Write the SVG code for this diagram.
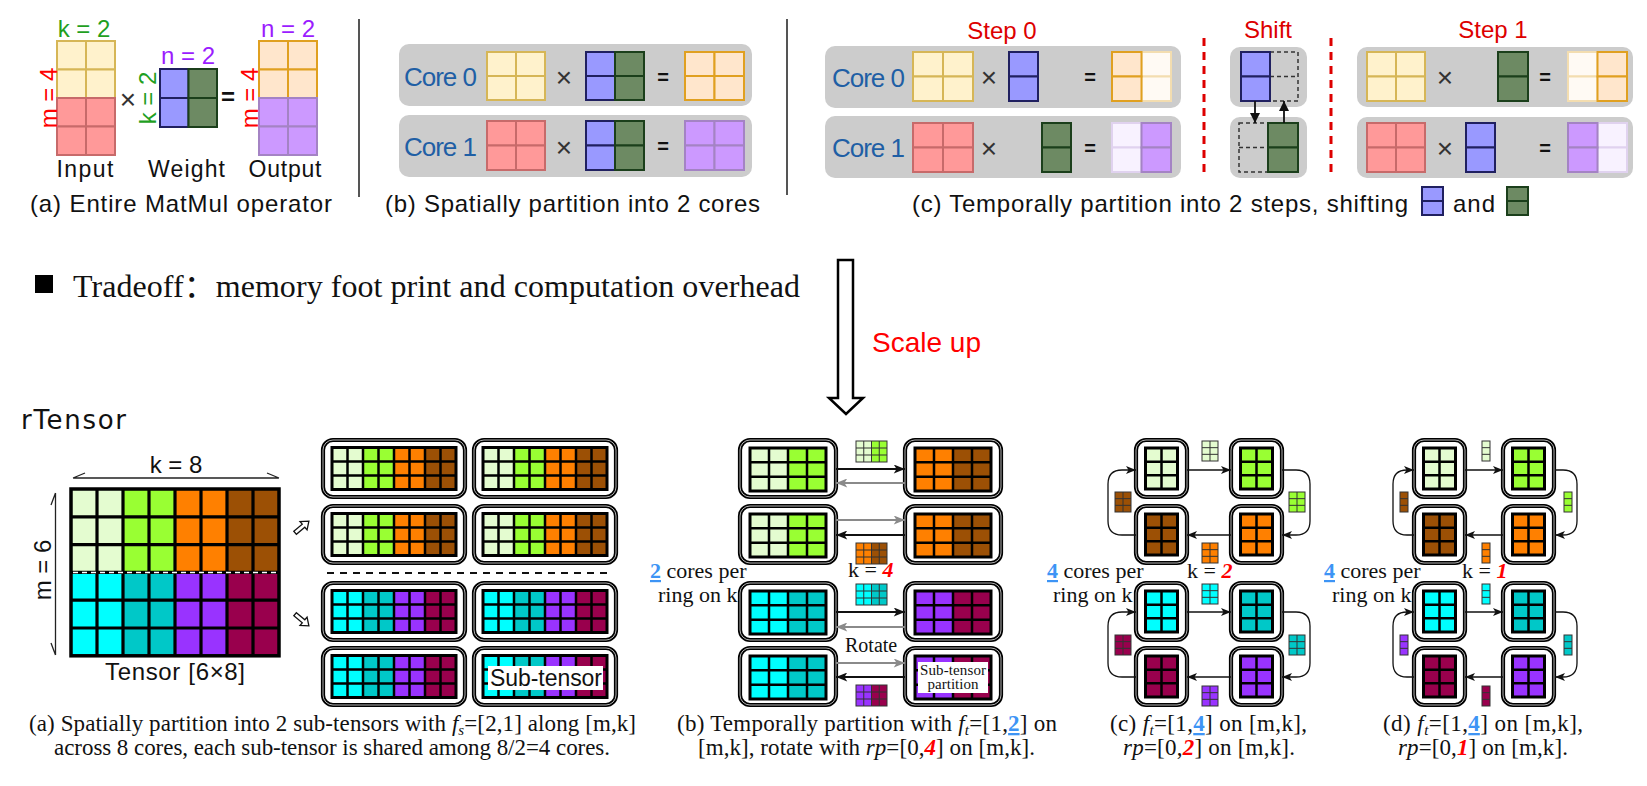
<svg xmlns="http://www.w3.org/2000/svg" xmlns:xlink="http://www.w3.org/1999/xlink" width="1647" height="786" viewBox="0 0 1647 786">
<style>
.sans{font-family:"Liberation Sans",Arial,sans-serif}
.serif{font-family:"Liberation Serif","Times New Roman",serif}
.cap{font-size:24px;fill:#111}
.core{font-size:26px;fill:#1f5fa5}
.gbox{fill:#cccccc}
.cy{fill:#fff2cc;stroke:#d6b656;stroke-width:2}
.cr{fill:#ff9999;stroke:#c76a6a;stroke-width:2}
.cb{fill:#9999ff;stroke:#202060;stroke-width:2}
.cg{fill:#6d8a63;stroke:#1b3f1b;stroke-width:2}
.cp{fill:#ffe6cc;stroke:#e0a020;stroke-width:2}
.cv{fill:#cc99ff;stroke:#a483c4;stroke-width:2}
.cpl{fill:#fffaf4;stroke:#f3ddb0;stroke-width:2}
.cvl{fill:#f8f2ff;stroke:#e0d2ef;stroke-width:2}
.dsh{fill:#cccccc;stroke:#333;stroke-width:1.5;stroke-dasharray:4,3}
.times{font-size:28px;fill:#333}
.eq{font-size:20px;font-weight:bold;fill:#111}
.red{fill:#dd0000;font-size:24px}
.ob{fill:#fff;stroke:#000;stroke-width:4.2}
.obw{fill:none;stroke:#fff;stroke-width:0.7}
.gl{fill:none;stroke:#000;stroke-width:2.5}
.gb{fill:none;stroke:#000;stroke-width:3}
.sl{fill:none;stroke:#333;stroke-width:1}
.bc{font-size:23px;fill:#111}
.bl{fill:#3d94f5;font-weight:bold;text-decoration:underline}
.rd{fill:#ff0000;font-weight:bold;font-style:italic}
.ar{fill:none;stroke:#111;stroke-width:1.8}
.arg{fill:none;stroke:#8a8a8a;stroke-width:1.8}
.ring{fill:none;stroke:#111;stroke-width:1.3}
</style>
<defs>
<marker id="mk" viewBox="0 0 10 8" refX="10" refY="4" markerWidth="12" markerHeight="9" markerUnits="userSpaceOnUse" orient="auto"><path d="M0,0 L10,4 L0,8 L2.5,4 Z" fill="#111"/></marker>
<marker id="mkg" viewBox="0 0 10 8" refX="10" refY="4" markerWidth="12" markerHeight="9" markerUnits="userSpaceOnUse" orient="auto"><path d="M0,0 L10,4 L0,8 L2.5,4 Z" fill="#8a8a8a"/></marker>
<marker id="mkr" viewBox="0 0 10 8" refX="10" refY="4" markerWidth="11" markerHeight="8" markerUnits="userSpaceOnUse" orient="auto"><path d="M0,0 L10,4 L0,8 L2.5,4 Z" fill="#111"/></marker>
<marker id="tri" viewBox="0 0 10 10" refX="10" refY="5" markerWidth="10" markerHeight="10" markerUnits="userSpaceOnUse" orient="auto"><path d="M0,0 L10,5 L0,10 Z" fill="#111"/></marker>
<g id="stLines">
<path class="gl" d="M24.5,7.5V49.5M40,7.5V49.5M55.5,7.5V49.5M71,7.5V49.5M86.5,7.5V49.5M102,7.5V49.5M117.5,7.5V49.5M9,21.5H133M9,35.5H133"/>
<rect x="9" y="7.5" width="124" height="42" class="gb"/>
</g>
<g id="stTop">
<rect x="0" y="0" width="142" height="57" rx="10" class="ob"/><rect x="0" y="0" width="142" height="57" rx="10" class="obw"/>
<rect x="9" y="7.5" width="31" height="42" fill="#e4fcd0"/><rect x="40" y="7.5" width="31" height="42" fill="#99ff33"/>
<rect x="71" y="7.5" width="31" height="42" fill="#ff8000"/><rect x="102" y="7.5" width="31" height="42" fill="#9c5005"/>
<use href="#stLines"/>
</g>
<g id="stBot">
<rect x="0" y="0" width="142" height="57" rx="10" class="ob"/><rect x="0" y="0" width="142" height="57" rx="10" class="obw"/>
<rect x="9" y="7.5" width="31" height="42" fill="#00ffff"/><rect x="40" y="7.5" width="31" height="42" fill="#00c8c8"/>
<rect x="71" y="7.5" width="31" height="42" fill="#9933ff"/><rect x="102" y="7.5" width="31" height="42" fill="#99004d"/>
<use href="#stLines"/>
</g>
<g id="bLines">
<path class="gl" d="M29,8V51M48,8V51M67,8V51M10,22.33H86M10,36.67H86"/>
<rect x="10" y="8" width="76" height="43" class="gb"/>
</g>
<g id="bFrame"><rect x="0" y="0" width="96" height="57" rx="10" class="ob"/><rect x="0" y="0" width="96" height="57" rx="10" class="obw"/></g>
<g id="bLG"><use href="#bFrame"/><rect x="10" y="8" width="38" height="43" fill="#e4fcd0"/><rect x="48" y="8" width="38" height="43" fill="#99ff33"/><use href="#bLines"/></g>
<g id="bOB"><use href="#bFrame"/><rect x="10" y="8" width="38" height="43" fill="#ff8000"/><rect x="48" y="8" width="38" height="43" fill="#9c5005"/><use href="#bLines"/></g>
<g id="bCT"><use href="#bFrame"/><rect x="10" y="8" width="38" height="43" fill="#00ffff"/><rect x="48" y="8" width="38" height="43" fill="#00c8c8"/><use href="#bLines"/></g>
<g id="bPM"><use href="#bFrame"/><rect x="10" y="8" width="38" height="43" fill="#9933ff"/><rect x="48" y="8" width="38" height="43" fill="#99004d"/><use href="#bLines"/></g>
<g id="cBox">
<rect x="0" y="0" width="51" height="57" rx="10" class="ob"/><rect x="0" y="0" width="51" height="57" rx="10" class="obw"/>
<rect x="9.5" y="8" width="32" height="41" fill="currentColor"/>
<path class="gl" d="M25.5,8V49M9.5,21.67H41.5M9.5,35.33H41.5"/>
<rect x="9.5" y="8" width="32" height="41" class="gb"/>
</g>
<g id="sb4L"><path class="sl" d="M7.75,0V21M15.5,0V21M23.25,0V21M0,7H31M0,14H31"/><rect x="0" y="0" width="31" height="21" class="sl"/></g>
<g id="sb2"><rect x="0" y="0" width="16" height="20" fill="currentColor"/><path class="sl" d="M8,0V20M0,6.67H16M0,13.33H16"/><rect x="0" y="0" width="16" height="20" class="sl"/></g>
<g id="sb1"><rect x="0" y="0" width="8" height="20" fill="currentColor"/><path class="sl" d="M0,6.67H8M0,13.33H8"/><rect x="0" y="0" width="8" height="20" class="sl"/></g>
</defs>
<rect x="0" y="0" width="1647" height="786" fill="#fff"/>

<!-- ===== Top (a) ===== -->
<g id="top-a">
<g id="a-input">
<rect class="cy" x="57" y="41" width="29" height="28.5"/><rect class="cy" x="86" y="41" width="29" height="28.5"/>
<rect class="cy" x="57" y="69.5" width="29" height="28.5"/><rect class="cy" x="86" y="69.5" width="29" height="28.5"/>
<rect class="cr" x="57" y="98" width="29" height="28.5"/><rect class="cr" x="86" y="98" width="29" height="28.5"/>
<rect class="cr" x="57" y="126.5" width="29" height="28.5"/><rect class="cr" x="86" y="126.5" width="29" height="28.5"/>
</g>
<g id="a-weight">
<rect class="cb" x="160" y="69" width="28.5" height="29"/><rect class="cb" x="160" y="98" width="28.5" height="29"/>
<rect class="cg" x="188.5" y="69" width="28.5" height="29"/><rect class="cg" x="188.5" y="98" width="28.5" height="29"/>
</g>
<g id="a-output">
<rect class="cp" x="259" y="41" width="29" height="28.5"/><rect class="cp" x="288" y="41" width="29" height="28.5"/>
<rect class="cp" x="259" y="69.5" width="29" height="28.5"/><rect class="cp" x="288" y="69.5" width="29" height="28.5"/>
<rect class="cv" x="259" y="98" width="29" height="28.5"/><rect class="cv" x="288" y="98" width="29" height="28.5"/>
<rect class="cv" x="259" y="126.5" width="29" height="28.5"/><rect class="cv" x="288" y="126.5" width="29" height="28.5"/>
</g>
<text class="sans" x="84" y="37" font-size="24" fill="#1fa01f" text-anchor="middle">k = 2</text>
<text class="sans" x="188" y="64" font-size="24" fill="#9b1cff" text-anchor="middle">n = 2</text>
<text class="sans" x="288" y="37" font-size="24" fill="#9b1cff" text-anchor="middle">n = 2</text>
<text class="sans" transform="translate(48,98) rotate(-90)" y="8.5" font-size="24" fill="#ff0000" text-anchor="middle">m = 4</text>
<text class="sans" transform="translate(147,98) rotate(-90)" y="8.5" font-size="24" fill="#1fa01f" text-anchor="middle">k = 2</text>
<text class="sans" transform="translate(249,98) rotate(-90)" y="8.5" font-size="24" fill="#ff0000" text-anchor="middle">m = 4</text>
<text class="sans times" x="128" y="109" text-anchor="middle">×</text>
<text class="sans" x="228" y="105" font-size="24" font-weight="bold" fill="#111" text-anchor="middle">=</text>
<text class="sans" x="85" y="177" font-size="23" fill="#111" text-anchor="middle" textLength="57">Input</text>
<text class="sans" x="186.5" y="177" font-size="23" fill="#111" text-anchor="middle" textLength="77">Weight</text>
<text class="sans" x="285" y="177" font-size="23" fill="#111" text-anchor="middle" textLength="73">Output</text>
<text class="sans cap" x="30" y="212" textLength="302">(a) Entire MatMul operator</text>
</g>

<line x1="359" y1="19" x2="359" y2="197" stroke="#555" stroke-width="2"/>
<line x1="787" y1="19" x2="787" y2="195" stroke="#555" stroke-width="2"/>

<!-- ===== Top (b) ===== -->
<g id="top-b">
<g id="b-core0">
<rect class="gbox" x="399" y="44" width="353" height="62" rx="10"/>
<text class="sans core" x="404" y="86" textLength="73">Core 0</text>
<rect class="cy" x="487" y="52" width="29" height="24"/><rect class="cy" x="516" y="52" width="29" height="24"/>
<rect class="cy" x="487" y="76" width="29" height="24"/><rect class="cy" x="516" y="76" width="29" height="24"/>
<text class="sans times" x="564" y="87" text-anchor="middle">×</text>
<rect class="cb" x="586" y="52" width="29" height="24"/><rect class="cb" x="586" y="76" width="29" height="24"/>
<rect class="cg" x="615" y="52" width="29" height="24"/><rect class="cg" x="615" y="76" width="29" height="24"/>
<text class="sans eq" x="663" y="84" text-anchor="middle">=</text>
<rect class="cp" x="685" y="52" width="29.5" height="24"/><rect class="cp" x="714.5" y="52" width="29.5" height="24"/>
<rect class="cp" x="685" y="76" width="29.5" height="24"/><rect class="cp" x="714.5" y="76" width="29.5" height="24"/>
</g>
<g id="b-core1">
<rect class="gbox" x="399" y="115" width="353" height="62" rx="10"/>
<text class="sans core" x="404" y="156" textLength="73">Core 1</text>
<rect class="cr" x="487" y="121" width="29" height="24.5"/><rect class="cr" x="516" y="121" width="29" height="24.5"/>
<rect class="cr" x="487" y="145.5" width="29" height="24.5"/><rect class="cr" x="516" y="145.5" width="29" height="24.5"/>
<text class="sans times" x="564" y="157" text-anchor="middle">×</text>
<rect class="cb" x="586" y="121" width="29" height="24.5"/><rect class="cb" x="586" y="145.5" width="29" height="24.5"/>
<rect class="cg" x="615" y="121" width="29" height="24.5"/><rect class="cg" x="615" y="145.5" width="29" height="24.5"/>
<text class="sans eq" x="663" y="153" text-anchor="middle">=</text>
<rect class="cv" x="685" y="121" width="29.5" height="24.5"/><rect class="cv" x="714.5" y="121" width="29.5" height="24.5"/>
<rect class="cv" x="685" y="145.5" width="29.5" height="24.5"/><rect class="cv" x="714.5" y="145.5" width="29.5" height="24.5"/>
</g>
<text class="sans cap" x="385" y="212" textLength="375">(b) Spatially partition into 2 cores</text>
</g>

<!-- ===== Top (c) ===== -->
<g id="top-c">
<text class="sans red" x="1002" y="39" text-anchor="middle">Step 0</text>
<text class="sans red" x="1268" y="38" text-anchor="middle">Shift</text>
<text class="sans red" x="1493" y="38" text-anchor="middle">Step 1</text>
<line x1="1204" y1="38" x2="1204" y2="174" stroke="#dd0000" stroke-width="3" stroke-dasharray="8,6"/>
<line x1="1331" y1="38" x2="1331" y2="174" stroke="#dd0000" stroke-width="3" stroke-dasharray="8,6"/>
<g id="c0-core0">
<rect class="gbox" x="825" y="46" width="356" height="62" rx="10"/>
<text class="sans core" x="832" y="87" textLength="73">Core 0</text>
<rect class="cy" x="913" y="52" width="30" height="24.5"/><rect class="cy" x="943" y="52" width="30" height="24.5"/>
<rect class="cy" x="913" y="76.5" width="30" height="24.5"/><rect class="cy" x="943" y="76.5" width="30" height="24.5"/>
<text class="sans times" x="989" y="87" text-anchor="middle">×</text>
<rect class="cb" x="1009" y="52" width="29" height="24.5"/><rect class="cb" x="1009" y="76.5" width="29" height="24.5"/>
<text class="sans eq" x="1090" y="84" text-anchor="middle">=</text>
<rect class="cpl" x="1141.5" y="52" width="29.5" height="24.5"/><rect class="cpl" x="1141.5" y="76.5" width="29.5" height="24.5"/>
<rect class="cp" x="1112" y="52" width="29.5" height="24.5"/><rect class="cp" x="1112" y="76.5" width="29.5" height="24.5"/>
</g>
<g id="c0-core1">
<rect class="gbox" x="825" y="116" width="356" height="62" rx="10"/>
<text class="sans core" x="832" y="157" textLength="73">Core 1</text>
<rect class="cr" x="913" y="123" width="30" height="24.5"/><rect class="cr" x="943" y="123" width="30" height="24.5"/>
<rect class="cr" x="913" y="147.5" width="30" height="24.5"/><rect class="cr" x="943" y="147.5" width="30" height="24.5"/>
<text class="sans times" x="989" y="158" text-anchor="middle">×</text>
<rect class="cg" x="1042" y="123" width="29" height="24.5"/><rect class="cg" x="1042" y="147.5" width="29" height="24.5"/>
<text class="sans eq" x="1090" y="155" text-anchor="middle">=</text>
<rect class="cvl" x="1112" y="123" width="29.5" height="24.5"/><rect class="cvl" x="1112" y="147.5" width="29.5" height="24.5"/>
<rect class="cv" x="1141.5" y="123" width="29.5" height="24.5"/><rect class="cv" x="1141.5" y="147.5" width="29.5" height="24.5"/>
</g>
<g id="shift-core0">
<rect class="gbox" x="1230" y="47" width="77" height="60" rx="10"/>
<rect class="dsh" x="1270" y="52" width="28" height="49"/><line x1="1270" y1="76.5" x2="1298" y2="76.5" class="dsh"/>
<rect class="cb" x="1241" y="52" width="29" height="24.5"/><rect class="cb" x="1241" y="76.5" width="29" height="24.5"/>
</g>
<g id="shift-core1">
<rect class="gbox" x="1230" y="117" width="77" height="61" rx="10"/>
<rect class="dsh" x="1239" y="123" width="29" height="49"/><line x1="1239" y1="147.5" x2="1268" y2="147.5" class="dsh"/>
<rect class="cg" x="1268" y="123" width="30" height="24.5"/><rect class="cg" x="1268" y="147.5" width="30" height="24.5"/>
</g>
<g id="s1-core0">
<rect class="gbox" x="1357" y="47" width="276" height="60" rx="10"/>
<rect class="cy" x="1367" y="52" width="29" height="24.5"/><rect class="cy" x="1396" y="52" width="29" height="24.5"/>
<rect class="cy" x="1367" y="76.5" width="29" height="24.5"/><rect class="cy" x="1396" y="76.5" width="29" height="24.5"/>
<text class="sans times" x="1445" y="87" text-anchor="middle">×</text>
<rect class="cg" x="1498" y="52" width="30" height="24.5"/><rect class="cg" x="1498" y="76.5" width="30" height="24.5"/>
<text class="sans eq" x="1545" y="84" text-anchor="middle">=</text>
<rect class="cpl" x="1568" y="52" width="29.5" height="24.5"/><rect class="cpl" x="1568" y="76.5" width="29.5" height="24.5"/>
<rect class="cp" x="1597.5" y="52" width="29.5" height="24.5"/><rect class="cp" x="1597.5" y="76.5" width="29.5" height="24.5"/>
</g>
<g id="s1-core1">
<rect class="gbox" x="1357" y="117" width="276" height="61" rx="10"/>
<rect class="cr" x="1367" y="123" width="29" height="24.5"/><rect class="cr" x="1396" y="123" width="29" height="24.5"/>
<rect class="cr" x="1367" y="147.5" width="29" height="24.5"/><rect class="cr" x="1396" y="147.5" width="29" height="24.5"/>
<text class="sans times" x="1445" y="158" text-anchor="middle">×</text>
<rect class="cb" x="1466" y="123" width="29" height="24.5"/><rect class="cb" x="1466" y="147.5" width="29" height="24.5"/>
<text class="sans eq" x="1545" y="155" text-anchor="middle">=</text>
<rect class="cvl" x="1597.5" y="123" width="29.5" height="24.5"/><rect class="cvl" x="1597.5" y="147.5" width="29.5" height="24.5"/>
<rect class="cv" x="1568" y="123" width="29.5" height="24.5"/><rect class="cv" x="1568" y="147.5" width="29.5" height="24.5"/>
</g>
<text class="sans cap" x="912" y="212" textLength="496">(c) Temporally partition into 2 steps, shifting</text>
<rect class="cb" x="1422" y="187" width="21" height="14"/><rect class="cb" x="1422" y="201" width="21" height="14"/>
<text class="sans cap" x="1453" y="212" textLength="42">and</text>
<rect class="cg" x="1507" y="187" width="21" height="14"/><rect class="cg" x="1507" y="201" width="21" height="14"/>
</g>

<!-- ===== Middle ===== -->
<g id="tradeoff">
<rect x="35" y="275" width="18" height="18" fill="#000"/>
<text x="73" y="297" font-family="'Liberation Serif','Noto Sans CJK SC',serif" font-size="32" fill="#111" textLength="727">Tradeoff：memory foot print and computation overhead</text>
</g>
<g id="scale-up">
<path d="M838,260 H853 V398 H863 L846,414 L829,398 H838 Z" fill="#fff" stroke="#000" stroke-width="2.5" stroke-linejoin="miter"/>
<text class="sans" x="872" y="352" font-size="28" fill="#ff0000">Scale up</text>
</g>

<!-- ===== Bottom (a) ===== -->
<text x="21" y="429" font-family="'DejaVu Sans',sans-serif" font-size="26" fill="#111" textLength="105">rTensor</text>
<g id="tensor">
<text class="sans" x="176" y="473" font-size="24" fill="#111" text-anchor="middle">k = 8</text>
<path d="M73,478 H279 M73,478 L85,473 M279,478 L267,473" fill="none" stroke="#222" stroke-width="1.3"/>
<path d="M55.5,493 V655 M55.5,493 L51,505 M55.5,655 L51,643" fill="none" stroke="#222" stroke-width="1.3"/>
<text class="sans" transform="translate(42,570) rotate(-90)" y="8.5" font-size="24" fill="#111" text-anchor="middle">m = 6</text>
<rect x="71" y="489" width="52" height="83.4" fill="#e4fcd0"/><rect x="123" y="489" width="52" height="83.4" fill="#99ff33"/>
<rect x="175" y="489" width="52" height="83.4" fill="#ff8000"/><rect x="227" y="489" width="52" height="83.4" fill="#9c5005"/>
<rect x="71" y="572.4" width="52" height="83.4" fill="#00ffff"/><rect x="123" y="572.4" width="52" height="83.4" fill="#00c8c8"/>
<rect x="175" y="572.4" width="52" height="83.4" fill="#9933ff"/><rect x="227" y="572.4" width="52" height="83.4" fill="#99004d"/>
<path d="M97,489V655.8M123,489V655.8M149,489V655.8M175,489V655.8M201,489V655.8M227,489V655.8M253,489V655.8M71,516.8H279M71,544.6H279M71,572.4H279M71,600.2H279M71,628H279" fill="none" stroke="#000" stroke-width="3.2"/>
<rect x="71" y="489" width="208" height="166.8" fill="none" stroke="#000" stroke-width="3.5"/>
<line x1="73" y1="572.4" x2="279" y2="572.4" stroke="#fff" stroke-width="1.5" stroke-dasharray="5,4"/>
<text class="sans" x="105" y="680" font-size="24" fill="#111" textLength="140">Tensor [6×8]</text>
</g>
<g id="split-arrows">
<path transform="translate(302,527) rotate(-40)" d="M-9,-2 L2,-2 L2,-5.5 L9,0 L2,5.5 L2,2 L-9,2 Z" fill="#fff" stroke="#111" stroke-width="1.3"/>
<path transform="translate(302,620) rotate(40)" d="M-9,-2 L2,-2 L2,-5.5 L9,0 L2,5.5 L2,2 L-9,2 Z" fill="#fff" stroke="#111" stroke-width="1.3"/>
</g>
<g id="a-st1"><use href="#stTop" x="323" y="440"/></g>
<g id="a-st2"><use href="#stTop" x="474" y="440"/></g>
<g id="a-st3"><use href="#stTop" x="323" y="506"/></g>
<g id="a-st4"><use href="#stTop" x="474" y="506"/></g>
<line x1="327" y1="573" x2="610" y2="573" stroke="#111" stroke-width="2" stroke-dasharray="7,6"/>
<g id="a-st5"><use href="#stBot" x="323" y="583"/></g>
<g id="a-st6"><use href="#stBot" x="474" y="583"/></g>
<g id="a-st7"><use href="#stBot" x="323" y="648"/></g>
<g id="a-st8"><use href="#stBot" x="474" y="648"/>
<rect x="488" y="666" width="115" height="24" fill="#fff"/>
<text class="sans" x="490" y="686" font-size="23" fill="#111" textLength="112">Sub-tensor</text></g>
<text class="serif bc" x="29" y="731" textLength="607">(a) Spatially partition into 2 sub-tensors with <tspan font-style="italic">f</tspan><tspan font-style="italic" font-size="15" dy="4">s</tspan><tspan dy="-4">=[2,1] along [m,k]</tspan></text>
<text class="serif bc" x="54" y="755" textLength="556">across 8 cores, each sub-tensor is shared among 8/2=4 cores.</text>

<!-- ===== Bottom (b) ===== -->
<g id="b-n1"><use href="#bLG" x="740" y="440"/></g>
<g id="b-n2"><use href="#bOB" x="905" y="440"/></g>
<g id="b-n3"><use href="#bLG" x="740" y="506"/></g>
<g id="b-n4"><use href="#bOB" x="905" y="506"/></g>
<g id="b-n5"><use href="#bCT" x="740" y="583"/></g>
<g id="b-n6"><use href="#bPM" x="905" y="583"/></g>
<g id="b-n7"><use href="#bCT" x="740" y="648"/></g>
<g id="b-n8"><use href="#bPM" x="905" y="648"/>
<rect x="918" y="662" width="70" height="31" fill="#fff"/>
<text class="serif" x="953" y="675" font-size="15" fill="#111" text-anchor="middle" textLength="66">Sub-tensor</text>
<text class="serif" x="953" y="689" font-size="15" fill="#111" text-anchor="middle">partition</text></g>
<g id="b-blocks">
<rect x="856" y="441" width="15.5" height="21" fill="#e4fcd0"/><rect x="871.5" y="441" width="15.5" height="21" fill="#99ff33"/><use href="#sb4L" x="856" y="441"/>
<rect x="856" y="543" width="15.5" height="21" fill="#ff8000"/><rect x="871.5" y="543" width="15.5" height="21" fill="#9c5005"/><use href="#sb4L" x="856" y="543"/>
<rect x="856" y="584" width="15.5" height="21" fill="#00ffff"/><rect x="871.5" y="584" width="15.5" height="21" fill="#00c8c8"/><use href="#sb4L" x="856" y="584"/>
<rect x="856" y="685" width="15.5" height="21" fill="#9933ff"/><rect x="871.5" y="685" width="15.5" height="21" fill="#99004d"/><use href="#sb4L" x="856" y="685"/>
</g>
<text class="serif" x="650" y="578" font-size="22" fill="#111"><tspan class="bl">2</tspan> cores per</text>
<text class="serif" x="658" y="602" font-size="22" fill="#111">ring on k</text>
<text class="serif" x="848" y="577" font-size="22" fill="#111">k = <tspan class="rd">4</tspan></text>
<text class="serif" x="845" y="652" font-size="20" fill="#111">Rotate</text>
<text class="serif bc" x="677" y="731" textLength="380">(b) Temporally partition with <tspan font-style="italic">f</tspan><tspan font-style="italic" font-size="15" dy="4">t</tspan><tspan dy="-4">=[1,</tspan><tspan class="bl">2</tspan>] on</text>
<text class="serif bc" x="698" y="755" textLength="337">[m,k], rotate with <tspan font-style="italic">rp</tspan>=[0,<tspan class="rd">4</tspan>] on [m,k].</text>

<!-- ===== Bottom (c) ===== -->
<g id="c-n1" style="color:#e4fcd0"><use href="#cBox" x="1136" y="440"/></g>
<g id="c-n2" style="color:#99ff33"><use href="#cBox" x="1231" y="440"/></g>
<g id="c-n3" style="color:#9c5005"><use href="#cBox" x="1136" y="506"/></g>
<g id="c-n4" style="color:#ff8000"><use href="#cBox" x="1231" y="506"/></g>
<g id="c-n5" style="color:#00ffff"><use href="#cBox" x="1136" y="583"/></g>
<g id="c-n6" style="color:#00c8c8"><use href="#cBox" x="1231" y="583"/></g>
<g id="c-n7" style="color:#99004d"><use href="#cBox" x="1136" y="648"/></g>
<g id="c-n8" style="color:#9933ff"><use href="#cBox" x="1231" y="648"/></g>
<g id="c-blocks">
<use href="#sb2" x="1202" y="441" style="color:#e4fcd0"/>
<use href="#sb2" x="1289" y="492" style="color:#99ff33"/>
<use href="#sb2" x="1115" y="492" style="color:#9c5005"/>
<use href="#sb2" x="1202" y="543" style="color:#ff8000"/>
<use href="#sb2" x="1202" y="584" style="color:#00ffff"/>
<use href="#sb2" x="1289" y="635" style="color:#00c8c8"/>
<use href="#sb2" x="1115" y="635" style="color:#99004d"/>
<use href="#sb2" x="1202" y="686" style="color:#9933ff"/>
</g>
<text class="serif" x="1047" y="578" font-size="22" fill="#111"><tspan class="bl">4</tspan> cores per</text>
<text class="serif" x="1053" y="602" font-size="22" fill="#111">ring on k</text>
<text class="serif" x="1187" y="578" font-size="22" fill="#111">k = <tspan class="rd">2</tspan></text>
<text class="serif bc" x="1110" y="731" textLength="197">(c) <tspan font-style="italic">f</tspan><tspan font-style="italic" font-size="15" dy="4">t</tspan><tspan dy="-4">=[1,</tspan><tspan class="bl">4</tspan>] on [m,k],</text>
<text class="serif bc" x="1123" y="755" textLength="172"><tspan font-style="italic">rp</tspan>=[0,<tspan class="rd">2</tspan>] on [m,k].</text>

<!-- ===== Bottom (d) ===== -->
<g id="d-n1" style="color:#e4fcd0"><use href="#cBox" x="1414" y="440"/></g>
<g id="d-n2" style="color:#99ff33"><use href="#cBox" x="1503" y="440"/></g>
<g id="d-n3" style="color:#9c5005"><use href="#cBox" x="1414" y="506"/></g>
<g id="d-n4" style="color:#ff8000"><use href="#cBox" x="1503" y="506"/></g>
<g id="d-n5" style="color:#00ffff"><use href="#cBox" x="1414" y="583"/></g>
<g id="d-n6" style="color:#00c8c8"><use href="#cBox" x="1503" y="583"/></g>
<g id="d-n7" style="color:#99004d"><use href="#cBox" x="1414" y="648"/></g>
<g id="d-n8" style="color:#9933ff"><use href="#cBox" x="1503" y="648"/></g>
<g id="d-blocks">
<use href="#sb1" x="1482" y="441" style="color:#e4fcd0"/>
<use href="#sb1" x="1564" y="492" style="color:#99ff33"/>
<use href="#sb1" x="1400" y="492" style="color:#9c5005"/>
<use href="#sb1" x="1482" y="543" style="color:#ff8000"/>
<use href="#sb1" x="1482" y="584" style="color:#00ffff"/>
<use href="#sb1" x="1564" y="635" style="color:#00c8c8"/>
<use href="#sb1" x="1400" y="635" style="color:#9933ff"/>
<use href="#sb1" x="1482" y="686" style="color:#99004d"/>
</g>
<text class="serif" x="1324" y="578" font-size="22" fill="#111"><tspan class="bl">4</tspan> cores per</text>
<text class="serif" x="1332" y="602" font-size="22" fill="#111">ring on k</text>
<text class="serif" x="1462" y="578" font-size="22" fill="#111">k = <tspan class="rd">1</tspan></text>
<text class="serif bc" x="1383" y="731" textLength="200">(d) <tspan font-style="italic">f</tspan><tspan font-style="italic" font-size="15" dy="4">t</tspan><tspan dy="-4">=[1,</tspan><tspan class="bl">4</tspan>] on [m,k],</text>
<text class="serif bc" x="1398" y="755" textLength="170"><tspan font-style="italic">rp</tspan>=[0,<tspan class="rd">1</tspan>] on [m,k].</text>

<!-- ===== Connectors ===== -->
<g id="connectors">
<line x1="1255" y1="101" x2="1255" y2="123" stroke="#111" stroke-width="1.8" marker-end="url(#tri)"/>
<line x1="1284" y1="123" x2="1284" y2="101" stroke="#111" stroke-width="1.8" marker-end="url(#tri)"/>
<path class="ar" d="M836,469 H905" marker-end="url(#mk)"/>
<path class="arg" d="M905,483 H836" marker-end="url(#mkg)"/>
<path class="arg" d="M836,520 H905" marker-end="url(#mkg)"/>
<path class="ar" d="M905,535 H836" marker-end="url(#mk)"/>
<path class="ar" d="M836,612 H905" marker-end="url(#mk)"/>
<path class="arg" d="M905,627 H836" marker-end="url(#mkg)"/>
<path class="arg" d="M836,663 H905" marker-end="url(#mkg)"/>
<path class="ar" d="M905,677 H836" marker-end="url(#mk)"/>
<path class="ring" d="M1187,470 H1231" marker-end="url(#mkr)"/>
<path class="ring" d="M1231,535 H1187" marker-end="url(#mkr)"/>
<path class="ring" d="M1282,470 H1296 Q1310,470 1310,484 V521 Q1310,535 1296,535 H1282" marker-end="url(#mkr)"/>
<path class="ring" d="M1136,535 H1122 Q1108,535 1108,521 V484 Q1108,470 1122,470 H1136" marker-end="url(#mkr)"/>
<path class="ring" d="M1187,612 H1231" marker-end="url(#mkr)"/>
<path class="ring" d="M1231,677 H1187" marker-end="url(#mkr)"/>
<path class="ring" d="M1282,612 H1296 Q1310,612 1310,626 V663 Q1310,677 1296,677 H1282" marker-end="url(#mkr)"/>
<path class="ring" d="M1136,677 H1122 Q1108,677 1108,663 V626 Q1108,612 1122,612 H1136" marker-end="url(#mkr)"/>
<path class="ring" d="M1465,470 H1503" marker-end="url(#mkr)"/>
<path class="ring" d="M1503,535 H1465" marker-end="url(#mkr)"/>
<path class="ring" d="M1555,470 H1563 Q1577,470 1577,484 V521 Q1577,535 1563,535 H1555" marker-end="url(#mkr)"/>
<path class="ring" d="M1414,535 H1407 Q1393,535 1393,521 V484 Q1393,470 1407,470 H1414" marker-end="url(#mkr)"/>
<path class="ring" d="M1465,612 H1503" marker-end="url(#mkr)"/>
<path class="ring" d="M1503,677 H1465" marker-end="url(#mkr)"/>
<path class="ring" d="M1555,612 H1563 Q1577,612 1577,626 V663 Q1577,677 1563,677 H1555" marker-end="url(#mkr)"/>
<path class="ring" d="M1414,677 H1407 Q1393,677 1393,663 V626 Q1393,612 1407,612 H1414" marker-end="url(#mkr)"/>
</g>
</svg>
